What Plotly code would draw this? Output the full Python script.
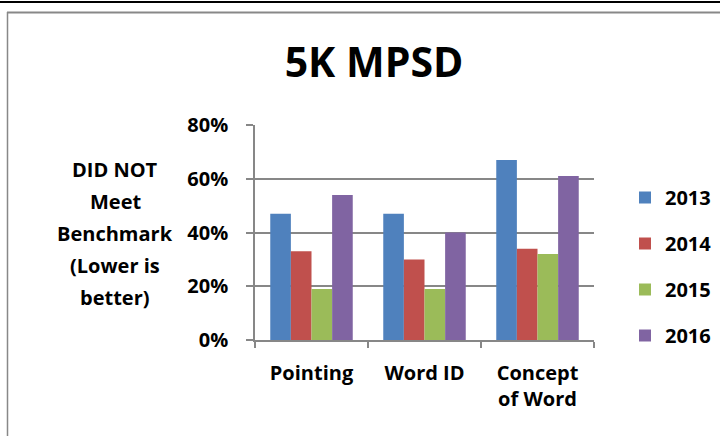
import plotly.graph_objects as go

categories = ["Pointing", "Word ID", "Concept<br>of Word"]
years = ["2013", "2014", "2015", "2016"]
values_2013 = [47, 47, 67]
values_2014 = [33, 30, 34]
values_2015 = [19, 19, 32]
values_2016 = [54, 40, 61]
series_values = [values_2013, values_2014, values_2015, values_2016]
colors = ["#4F81BD", "#C0504D", "#9BBB59", "#8064A2"]
tick_vals = [0, 20, 40, 60, 80]
tick_text = ["0%", "20%", "40%", "60%", "80%"]
title_text = "5K MPSD"
ytitle_lines = ["DID NOT", "Meet", "Benchmark", "(Lower is", "better)"]

W, H = 720, 436
L, R, T, B = 255, 126, 125, 96
pw, ph = W - L - R, H - T - B

def px_x(x):
    return (x - L) / pw

def px_y(y):
    return (H - B - y) / ph

FONT = "Open Sans"
fig = go.Figure()
for i, (yr, vals) in enumerate(zip(years, series_values)):
    fig.add_trace(go.Bar(
        x=categories, y=vals, name=yr,
        marker=dict(color=colors[i], line=dict(width=0)),
        legendgroup=yr,
    ))

fig.update_layout(
    width=W, height=H,
    margin=dict(l=L, r=R, t=T, b=B, autoexpand=False),
    paper_bgcolor="white", plot_bgcolor="white",
    barmode="group", bargap=0.27, bargroupgap=0,
    font=dict(family=FONT, size=20, color="black", weight="bold"),
    title=dict(text=title_text, x=374 / W, xanchor="center",
               y=1 - 63 / H, yanchor="middle", yref="container",
               font=dict(family=FONT, size=41, color="black", weight="bold")),
    showlegend=True,
    legend=dict(x=px_x(625), xanchor="left", y=px_y(178), yanchor="top",
                font=dict(family=FONT, size=20, color="black", weight="bold"),
                tracegroupgap=17, bgcolor="rgba(0,0,0,0)"),
    xaxis=dict(showline=True, linecolor="#878787", linewidth=1.5,
               ticks="outside", tickson="boundaries", ticklen=6,
               tickcolor="#878787", tickwidth=1.5,
               showgrid=False, ticklabelstandoff=14,
               tickfont=dict(family=FONT, size=20, color="black", weight="bold")),
    yaxis=dict(range=[0, 80], tickvals=tick_vals, ticktext=tick_text,
               showline=True, linecolor="#878787", linewidth=1.5,
               showgrid=True, gridcolor="#878787", gridwidth=1.5,
               ticks="outside", ticklen=7, tickcolor="#878787", tickwidth=1.5,
               zeroline=False, ticklabelstandoff=14,
               tickfont=dict(family=FONT, size=20, color="black", weight="bold")),
)

line_ys = [169, 201, 233, 265, 297]
for txt, ly in zip(ytitle_lines, line_ys):
    fig.add_annotation(text=txt, xref="paper", yref="paper",
                       x=px_x(115), y=px_y(ly), xanchor="center", yanchor="middle",
                       showarrow=False,
                       font=dict(family=FONT, size=20, color="black", weight="bold"))

# outer frame lines
fig.add_shape(type="line", xref="paper", yref="paper",
              x0=px_x(0), x1=px_x(W), y0=px_y(2), y1=px_y(2),
              line=dict(color="black", width=2))
fig.add_shape(type="line", xref="paper", yref="paper",
              x0=px_x(7), x1=px_x(W), y0=px_y(12.5), y1=px_y(12.5),
              line=dict(color="#888888", width=2))
fig.add_shape(type="line", xref="paper", yref="paper",
              x0=px_x(7.5), x1=px_x(7.5), y0=px_y(12), y1=px_y(H),
              line=dict(color="#888888", width=1.5))

fig.write_html("out.html", config={"displayModeBar": False},
               post_script="document.body.style.margin='0';document.body.style.overflow='hidden';")
